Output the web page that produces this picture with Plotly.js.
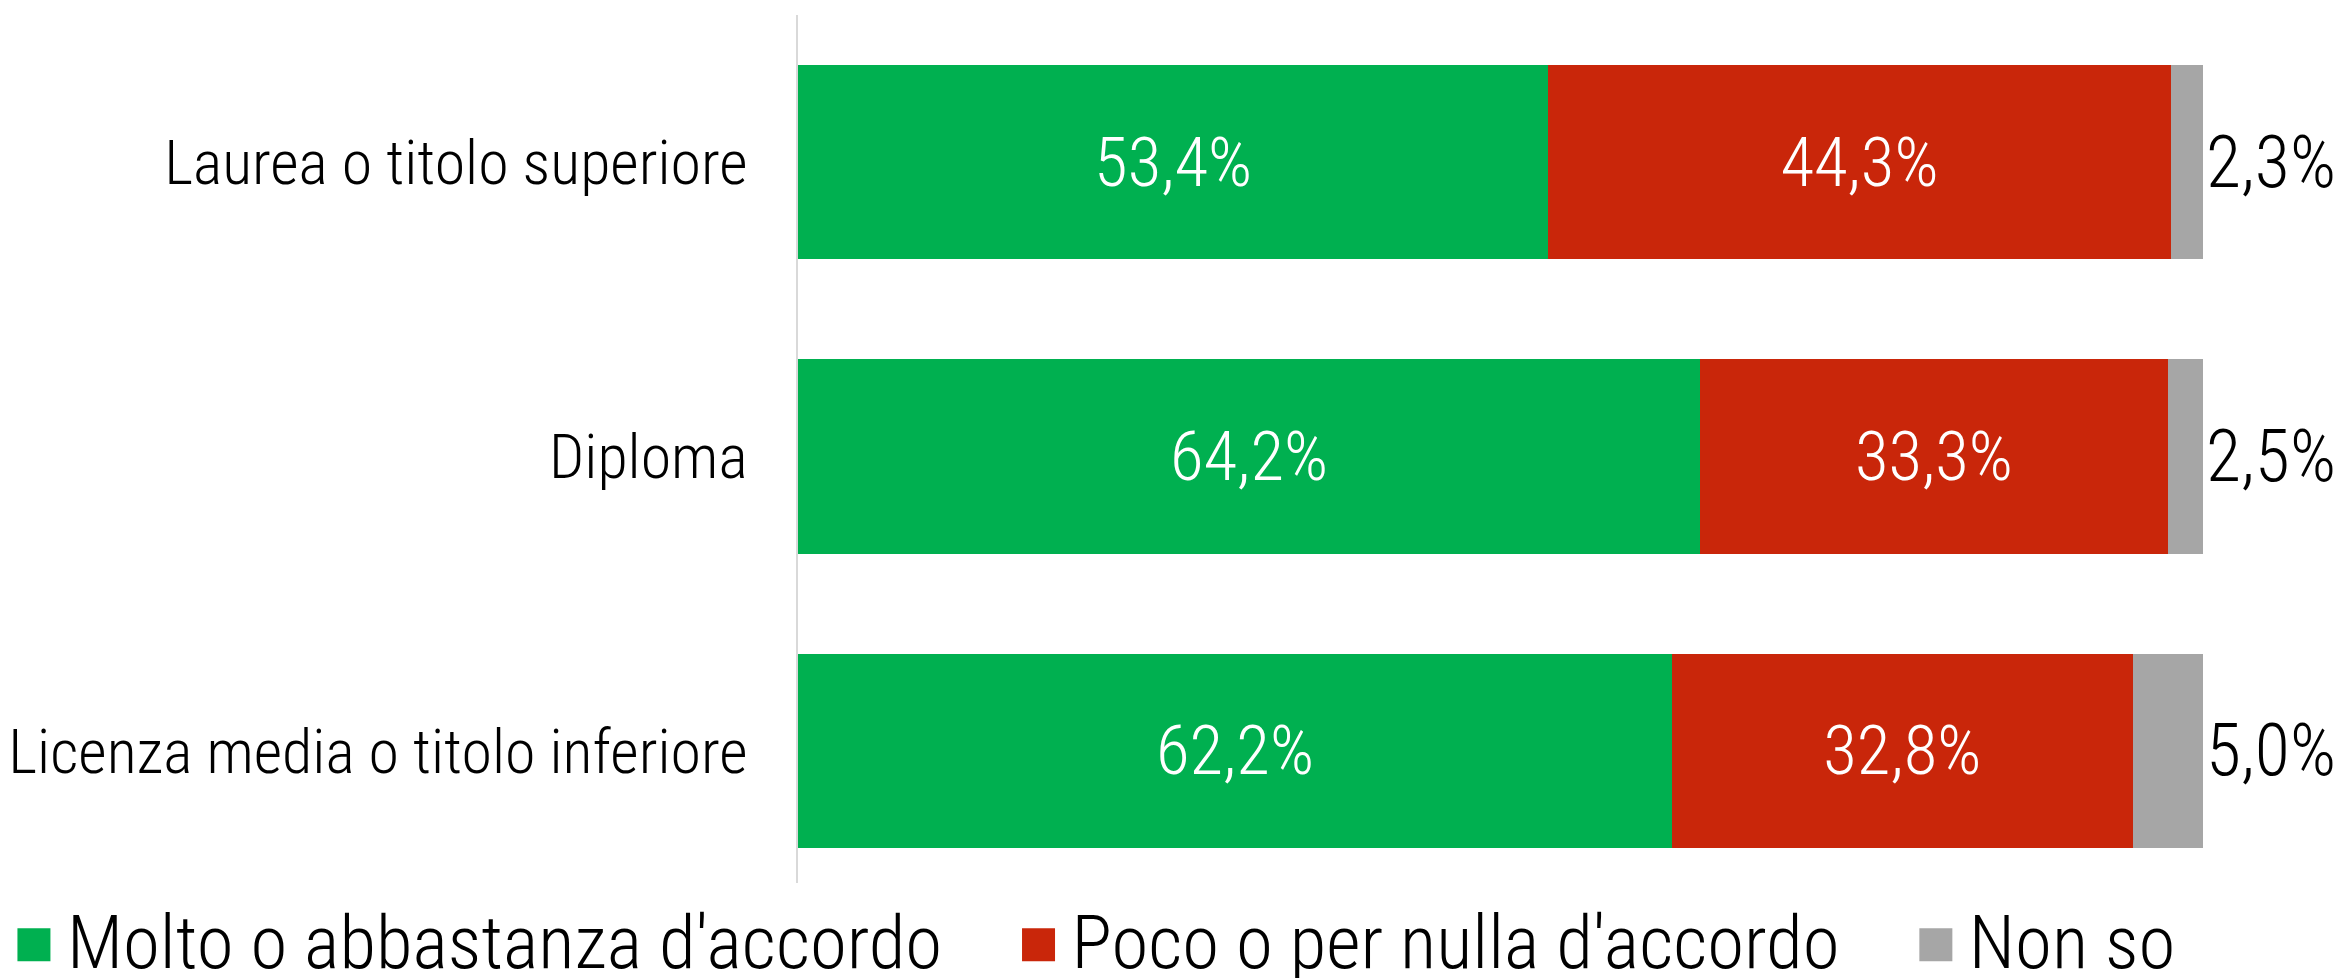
<!DOCTYPE html>
<html>
<head>
<meta charset="utf-8">
<script src="https://cdn.plot.ly/plotly-3.0.1.min.js"></script>
<style>html,body{margin:0;padding:0;background:#fff;}#chart{width:2340px;height:978px;}</style>
</head>
<body>
<div id="chart"></div>
<script>
const categories = ["Laurea o titolo superiore", "Diploma", "Licenza media o titolo inferiore"];
const seriesNames = ["Molto o abbastanza d'accordo", "Poco o per nulla d'accordo", "Non so"];
const molto = [53.4, 64.2, 62.2];
const poco = [44.3, 33.3, 32.8];
const nonSo = [2.3, 2.5, 5.0];
const colors = ["#00B050", "#C9260A", "#A6A6A6"];

const FONT = "Roboto Condensed, Roboto, sans-serif";
const values = [molto, poco, nonSo];
const PAD = "\u00a0\u00a0\u00a0\u00a0\u00a0";

const traces = values.map((vals, i) => ({
  type: "bar",
  orientation: "h",
  name: i < 2 ? seriesNames[i] + PAD : seriesNames[i],
  y: categories,
  x: vals,
  marker: {color: colors[i]},
  texttemplate: "%{x:.1f}%",
  textposition: i === 2 ? "outside" : "inside",
  insidetextanchor: "middle",
  textfont: {family: FONT, size: i === 2 ? 72 : 69, weight: 300, color: i === 2 ? "#000000" : "#ffffff"},
  constraintext: "none",
  cliponaxis: false,
  hoverinfo: "skip"
}));

const layout = {
  width: 2340,
  height: 978,
  barmode: "stack",
  bargap: 0.34,
  separators: ",.",
  paper_bgcolor: "#ffffff",
  plot_bgcolor: "#ffffff",
  margin: {l: 798, r: 137, t: 15, b: 80, autoexpand: false},
  font: {family: FONT, color: "#000000", weight: 300},
  xaxis: {
    range: [0, 100],
    visible: false,
    fixedrange: true
  },
  yaxis: {
    categoryorder: "array",
    categoryarray: categories,
    autorange: "reversed",
    showline: true,
    linecolor: "#D9D9D9",
    linewidth: 2,
    ticks: "",
    ticklabelstandoff: 36,
    showgrid: false,
    zeroline: false,
    tickfont: {family: FONT, size: 62, weight: 300, color: "#000000"}
  },
  showlegend: true,
  legend: {
    orientation: "h",
    traceorder: "normal",
    x: -0.5488,
    xanchor: "left",
    y: -0.0464,
    yanchor: "middle",
    font: {family: FONT, size: 75, weight: 300, color: "#000000"},
    itemwidth: 30,
    tracegroupgap: 0
  }
};

function bigSymbols(gd) {
  gd.querySelectorAll(".legend [clip-path]").forEach(e => e.removeAttribute("clip-path"));
  gd.querySelectorAll(".legend .legendpoints path").forEach(p => {
    p.setAttribute("transform", "translate(7,6) scale(2.75)");
  });
}

const gd = document.getElementById("chart");
Plotly.newPlot(gd, traces, layout, {displayModeBar: false, staticPlot: true}).then(g => {
  bigSymbols(g);
  g.on("plotly_afterplot", () => bigSymbols(g));
});
</script>
</body>
</html>
